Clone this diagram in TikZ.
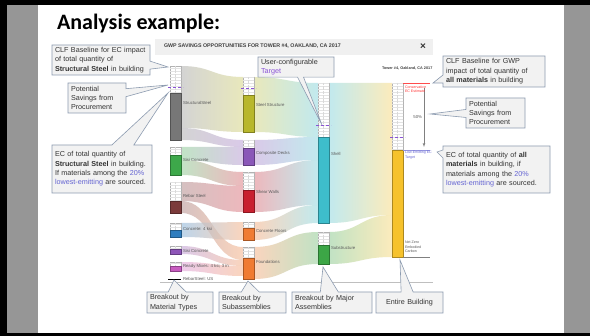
\documentclass[tikz,border=0pt]{standalone}
\usepackage{fontspec}
\setmainfont{Liberation Sans}
\newfontfamily\titlefont{Carlito}
\usetikzlibrary{shapes.callouts,patterns}

\definecolor{slidegray}{HTML}{969696}
\definecolor{boxfill}{HTML}{F2F2F2}
\definecolor{boxline}{HTML}{8C9BB0}
\definecolor{linkblue}{HTML}{6464D2}
\definecolor{targetpurple}{HTML}{8A52D6}
\definecolor{steelgray}{HTML}{777777}
\definecolor{sisigreen}{HTML}{3DA84A}
\definecolor{rebarred}{HTML}{7B3A3A}
\definecolor{concblue}{HTML}{2F7DBE}
\definecolor{sisipurple}{HTML}{8E55B8}
\definecolor{readymag}{HTML}{C75BBF}
\definecolor{olivebar}{HTML}{B8B72C}
\definecolor{deckpurple}{HTML}{8A57B8}
\definecolor{shearred}{HTML}{C8202F}
\definecolor{floororange}{HTML}{F07B32}
\definecolor{shellteal}{HTML}{3EBDCB}
\definecolor{subgreen}{HTML}{3CA646}
\definecolor{bldgyellow}{HTML}{F6C22C}

% flow band: x1 top1 bot1 x2 top2 bot2 colour1 colour2
\newcommand{\flowband}[8]{%
  \shade[left color=#7!45, right color=#8!45, opacity=0.7]
    (#1,#2) .. controls ({(#1+#4)/2},#2) and ({(#1+#4)/2},#5) .. (#4,#5)
    -- (#4,#6) .. controls ({(#1+#4)/2},#6) and ({(#1+#4)/2},#3) .. (#1,#3) -- cycle;}
% savings part of a column: x top bottom
\newcommand{\hatchbar}[3]{%
  \filldraw[draw=gray!60,line width=0.3pt,fill=white] (#1,#2) rectangle ({#1+11},#3);
  \fill[pattern=horizontal lines,pattern color=gray!22] (#1,#2) rectangle ({#1+11},#3);
  \draw[gray!30,line width=0.3pt,densely dotted] ({#1+5.5},#2) -- ({#1+5.5},#3);}
% solid part of a column: x top bottom colour
\newcommand{\solidbar}[4]{%
  \filldraw[fill=#4,draw=#4!70!black,line width=0.3pt] (#1,#2) rectangle ({#1+11},#3);}

\begin{document}
\begin{tikzpicture}[x=1pt,y=-1pt,every node/.style={inner sep=0pt,outer sep=0pt}]
\tikzstyle{note}=[rectangle callout,draw=boxline,fill=boxfill,line width=0.6pt,inner xsep=3pt,inner ysep=2pt,align=left,anchor=north west,font=\fontsize{7.2}{9.4}\selectfont,text=black!80,callout pointer width=8pt]
\tikzstyle{tinylbl}=[anchor=west,font=\fontsize{4.3}{5}\selectfont,text=black!65]
\tikzstyle{target}=[targetpurple,line width=0.4pt,densely dashed]

\useasboundingbox (0,0) rectangle (590,336);
% slide
\fill[black] (0,0) rectangle (590,336);
\fill[slidegray] (7,5) rectangle (590,333);
\fill[white] (38,5) rectangle (564,333);
\node (title) [anchor=base west,font=\titlefont\bfseries\fontsize{22}{24}\selectfont] at (57,30) {Analysis example:};

% chart header
\fill[gray!12] (155,39) rectangle (433,55);
\node (header) [anchor=west,font=\bfseries\fontsize{5.3}{6}\selectfont,text=black!75] at (164,46) {GWP SAVINGS OPPORTUNITIES FOR TOWER \#4, OAKLAND, CA 2017};
\node (close) [font=\bfseries\fontsize{10}{10}\selectfont,text=black!80] at (423,47) {×};
\node (tower) [anchor=west,font=\bfseries\fontsize{3.8}{4}\selectfont,text=black!75] at (382,68) {Tower \#4, Oakland, CA 2017};

% flows
\flowband{181}{66}{128}{243}{77}{132}{steelgray}{olivebar}
\flowband{181}{128}{140}{243}{140}{147}{steelgray}{deckpurple}
\flowband{181}{147}{160}{243}{147}{165}{sisigreen}{deckpurple}
\flowband{181}{160}{175}{243}{172}{186}{sisigreen}{shearred}
\flowband{181}{182}{201}{243}{186}{212}{rebarred}{shearred}
\flowband{181}{201}{213}{243}{247}{260}{rebarred}{floororange}
\flowband{181}{223}{237}{243}{222}{240}{concblue}{floororange}
\flowband{181}{246}{254}{243}{260}{266}{sisipurple}{floororange}
\flowband{181}{262}{271}{243}{266}{276}{readymag}{floororange}
\flowband{254}{77}{132}{318}{83}{137}{olivebar}{shellteal}
\flowband{254}{140}{165}{318}{137}{160}{deckpurple}{shellteal}
\flowband{254}{172}{212}{318}{160}{205}{shearred}{shellteal}
\flowband{254}{222}{240}{318}{205}{223}{floororange}{shellteal}
\flowband{254}{247}{279}{318}{232}{264}{floororange}{subgreen}
\flowband{329}{83}{223}{392}{83}{215}{shellteal}{bldgyellow}
\flowband{329}{232}{264}{392}{215}{257}{subgreen}{bldgyellow}

% material types
\hatchbar{170}{66}{93}\solidbar{170}{93}{140}{steelgray}
\hatchbar{170}{147}{155}\solidbar{170}{155}{175}{sisigreen}
\hatchbar{170}{182}{201}\solidbar{170}{201}{213}{rebarred}
\hatchbar{170}{223}{230}\solidbar{170}{230}{237}{concblue}
\hatchbar{170}{246}{249}\solidbar{170}{249}{254}{sisipurple}
\hatchbar{170}{262}{266}\solidbar{170}{266}{271}{readymag}
\draw[black,line width=0.8pt] (168,279) -- (181,279);
\draw[target] (168,87) -- (183,87);

% subassemblies
\hatchbar{243}{77}{95}\solidbar{243}{95}{132}{olivebar}
\hatchbar{243}{140}{148}\solidbar{243}{148}{165}{deckpurple}
\hatchbar{243}{172}{190}\solidbar{243}{190}{212}{shearred}
\hatchbar{243}{222}{228}\solidbar{243}{228}{240}{floororange}
\hatchbar{243}{247}{258}\solidbar{243}{258}{279}{floororange}
\draw[target] (241,88) -- (256,88);

% major assemblies
\hatchbar{318}{83}{137}\solidbar{318}{137}{223}{shellteal}
\hatchbar{318}{232}{245}\solidbar{318}{245}{264}{subgreen}
\draw[target] (316,125) -- (331,125);

% entire building
\hatchbar{392}{83}{150}\solidbar{392}{150}{257}{bldgyellow}
\draw[target] (390,137) -- (405,137);
\draw[red!70,line width=0.3pt] (403,83) -- (430,83);
\draw[linkblue!70,line width=0.3pt] (403,150) -- (430,150);
\draw[gray,line width=0.3pt] (403,257) -- (430,257);
\coordinate (conservTop) at (424,88);
\coordinate (targetEnd) at (424,147);
\draw[-latex,gray,line width=0.3pt] (conservTop) -- (targetEnd);
\draw[gray!50,line width=0.4pt] (160,282) -- (433,282);

% column labels
\node (lblStructSteel) [tinylbl] at (183,103) {StructuralSteel};
\node (lblSisi) [tinylbl] at (183,160) {Sisi Concrete};
\node (lblRebar) [tinylbl] at (183,196) {Rebar Steel};
\node (lblConc) [tinylbl] at (183,229) {Concrete: 4 ksi};
\node (lblSisiB) [tinylbl] at (183,251) {Sisi Concrete};
\node (lblReady) [tinylbl] at (183,266) {Ready Mixes: 4 ksi, 3 in};
\node (lblRebarUS) [tinylbl] at (183,279) {RebarSteel: US};
\node (lblSteelStruct) [tinylbl] at (256,105) {Steel Structure};
\node (lblDecks) [tinylbl] at (256,153) {Composite Decks};
\node (lblShear) [tinylbl] at (256,192) {Shear Walls};
\node (lblFloors) [tinylbl] at (256,231) {Concrete Floors};
\node (lblFound) [tinylbl] at (256,262) {Foundations};
\node (lblShell) [tinylbl] at (331,154) {Shell};
\node (lblSub) [tinylbl] at (331,248) {Substructure};
\node (lblConserv) [tinylbl,text=red!80,align=left,font=\fontsize{3.6}{4.2}\selectfont] at (405,89) {Conservative\\EC Estimate};
\node (lblPct) [tinylbl,anchor=east] at (422,117) {50\%};
\node (lblTarget) [tinylbl,text=linkblue,align=left,font=\fontsize{3.6}{4.2}\selectfont] at (405,155) {Low-Emitting EC\\Target};
\node (lblNetZero) [tinylbl,align=left,font=\fontsize{3.6}{4.6}\selectfont] at (405,247) {Net Zero\\Embodied\\Carbon};

% callouts
\coordinate (steelTop) at (168,67);
\coordinate (steelSave) at (168,85);
\coordinate (steelBar) at (168,93);
\coordinate (shellTarget) at (322,125);
\coordinate (bldgTop) at (433,83);
\coordinate (bldgSave) at (430,114);
\coordinate (bldgBar) at (437,152);
\coordinate (matBase) at (174,280);
\coordinate (subBase) at (248,281);
\coordinate (majBase) at (323,267);
\coordinate (bldgBase) at (400,260);

\node (clfSteel) [note,text width=92pt,minimum height=30pt,callout absolute pointer={(steelTop)}] at (52,45)
  {CLF Baseline for EC impact\\of total quantity of\\\textbf{Structural Steel} in building};
\node (saveSteel) [note,text width=52pt,minimum height=30pt,callout absolute pointer={(steelSave)}] at (68,83)
  {Potential\\Savings from\\Procurement};
\node (ecSteel) [note,text width=94pt,minimum height=48pt,callout pointer width=22pt,callout absolute pointer={(steelBar)}] at (52,145)
  {EC of total quantity of\\\textbf{Structural Steel} in building.\\If materials among the \textcolor{linkblue}{20\%}\\\textcolor{linkblue}{lowest-emitting} are sourced.};
\node (userTarget) [note,text width=70pt,minimum height=18pt,callout pointer width=6pt,callout absolute pointer={(shellTarget)}] at (258,57)
  {User-configurable\\\textcolor{targetpurple}{Target}};
\node (clfAll) [note,text width=96pt,minimum height=31pt,callout absolute pointer={(bldgTop)}] at (443,56)
  {CLF Baseline for GWP\\impact of total quantity of\\\textbf{all materials} in building};
\node (saveAll) [note,text width=53pt,minimum height=30pt,callout absolute pointer={(bldgSave)}] at (466,98)
  {Potential\\Savings from\\Procurement};
\node (ecAll) [note,text width=101pt,minimum height=47pt,callout absolute pointer={(bldgBar)}] at (443,146)
  {EC of total quantity of \textbf{all}\\\textbf{materials} in building, if\\materials among the \textcolor{linkblue}{20\%}\\\textcolor{linkblue}{lowest-emitting} are sourced.};

% breakout boxes
\node (brkMat) [note,text width=60pt,minimum height=21pt,callout pointer width=18pt,callout absolute pointer={(matBase)}] at (147,292)
  {Breakout by\\Material Types};
\node (brkSub) [note,text width=61pt,minimum height=21pt,callout pointer width=18pt,callout absolute pointer={(subBase)}] at (219,292)
  {Breakout by\\Subassemblies};
\node (brkMaj) [note,text width=74pt,minimum height=21pt,callout pointer width=18pt,callout absolute pointer={(majBase)}] at (292,292)
  {Breakout by Major\\Assemblies};
\node (brkAll) [note,text width=61pt,minimum height=21pt,align=center,callout pointer width=12pt,callout absolute pointer={(bldgBase)}] at (376,292)
  {Entire Building};
\end{tikzpicture}
\end{document}
